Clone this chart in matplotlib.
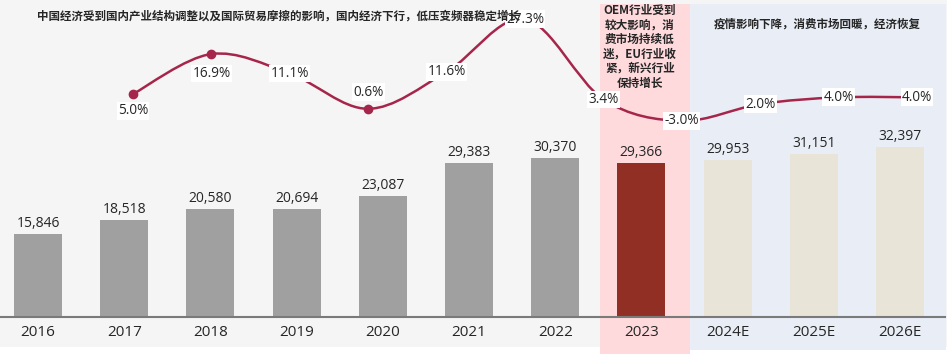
import matplotlib
matplotlib.use("Agg")
import matplotlib.pyplot as plt
from matplotlib.patches import Rectangle, PathPatch
from matplotlib.path import Path
import numpy as np

plt.rcParams['font.family'] = ['Open Sans', 'Noto Sans CJK SC', 'DejaVu Sans']

years = ['2016', '2017', '2018', '2019', '2020', '2021', '2022', '2023', '2024E', '2025E', '2026E']
sales = [15846, 18518, 20580, 20694, 23087, 29383, 30370, 29366, 29953, 31151, 32397]
growth = [5.0, 16.9, 11.1, 0.6, 11.6, 27.3, 3.4, -3.0, 2.0, 4.0, 4.0]
growth_labels = ['5.0%', '16.9%', '11.1%', '0.6%', '11.6%', '27.3%', '3.4%', '-3.0%', '2.0%', '4.0%', '4.0%']
note_hist = '中国经济受到国内产业结构调整以及国际贸易摩擦的影响，国内经济下行，低压变频器稳定增长'
note_2023 = 'OEM行业受到\n较大影响，消\n费市场持续低\n迷，EU行业收\n紧，新兴行业\n保持增长'
note_fc = '疫情影响下降，消费市场回暖，经济恢复'

W, H = 952, 354
fig = plt.figure(figsize=(W / 100, H / 100), dpi=100)
fig.patch.set_facecolor('white')

def fx(px):
    return px / W

def fy(py):  # py measured from top
    return 1 - py / H

# background panels (figure coords)
fig.patches.append(Rectangle((0, fy(347)), fx(947), fy(0) - fy(347), transform=fig.transFigure,
                             facecolor='#f5f5f5', edgecolor='none', zorder=-3))
fig.patches.append(Rectangle((fx(600), fy(354)), fx(90), fy(4) - fy(354), transform=fig.transFigure,
                             facecolor='#ffdadd', edgecolor='none', zorder=-2))
fig.patches.append(Rectangle((fx(690), fy(350)), fx(256), fy(4) - fy(350), transform=fig.transFigure,
                             facecolor='#e9eef6', edgecolor='none', zorder=-2))

# bar axes
ax = fig.add_axes([0, 0, 1, 1])
ax.set_facecolor('none')
step_b = 86.2
x0_b = 38
ax.set_xlim(-x0_b / step_b, (W - x0_b) / step_b)
sc = 5.24 / 1000.0
base = 37
ax.set_ylim(-base / sc, (H - base) / sc)
ax.axis('off')

colors = ['#a0a0a0'] * 7 + ['#922f24'] + ['#e8e5d8'] * 3
xs = np.arange(len(years))
ax.bar(xs, sales, width=0.557, color=colors, zorder=2)
for i, v in enumerate(sales):
    ax.annotate(f'{v:,}', (i, v), xytext=(0, 2), textcoords='offset points',
                ha='center', va='bottom', fontsize=10, color='#262626', zorder=3)
    ax.text(i, (22 - base) / sc, years[i], ha='center', va='center', fontsize=11, color='#262626')
ax.plot([ax.get_xlim()[0], (945 - x0_b) / step_b], [0, 0], color='#7a7a7a', lw=1.5, zorder=3)

# line axes
ax2 = fig.add_axes([0, 0, 1, 1])
ax2.set_facecolor('none')
step_l = 78.4
x0_l = 133
ax2.set_xlim(-x0_l / step_l, (W - x0_l) / step_l)
ysc = 3.36
ybase = H - 110.8
ax2.set_ylim(-ybase / ysc, (H - ybase) / ysc)
ax2.axis('off')

pts = np.column_stack([xs, growth]).astype(float)
verts = [tuple(pts[0])]
codes = [Path.MOVETO]
n = len(pts)
for i in range(n - 1):
    p0 = pts[i - 1] if i > 0 else pts[i]
    p1 = pts[i]
    p2 = pts[i + 1]
    p3 = pts[i + 2] if i + 2 < n else pts[i + 1]
    c1 = p1 + (p2 - p0) / 6.0
    c2 = p2 - (p3 - p1) / 6.0
    verts += [tuple(c1), tuple(c2), tuple(p2)]
    codes += [Path.CURVE4] * 3
ax2.add_patch(PathPatch(Path(verts, codes), facecolor='none', edgecolor='#a6264b', lw=1.8, zorder=4))
ax2.plot(xs, growth, 'o', color='#a6264b', ms=6, zorder=5, linestyle='none')

offsets = {0: -12, 1: -14, 3: 12}
for i, (v, lab) in enumerate(zip(growth, growth_labels)):
    dy = offsets.get(i, 0)
    ax2.annotate(lab, (i, v), xytext=(0, dy), textcoords='offset points', ha='center', va='center',
                 fontsize=9.8, color='#262626', zorder=6,
                 bbox=dict(boxstyle='square,pad=0.1', facecolor='white', edgecolor='none'))

# notes
fig.text(fx(37), fy(16), note_hist, ha='left', va='center', fontsize=8.3, fontweight='bold',
         color='#262626', family=['Noto Sans CJK SC', 'DejaVu Sans'], zorder=7)
fig.text(fx(640), fy(4), note_2023, ha='center', va='top', fontsize=8.4, fontweight='bold',
         color='#262626', family=['Noto Sans CJK SC', 'DejaVu Sans'], linespacing=1.15, zorder=7)
fig.text(fx(817), fy(24), note_fc, ha='center', va='center', fontsize=8.3, fontweight='bold',
         color='#262626', family=['Noto Sans CJK SC', 'DejaVu Sans'], zorder=7)

fig.savefig('out.png', dpi=100, facecolor=fig.get_facecolor())
